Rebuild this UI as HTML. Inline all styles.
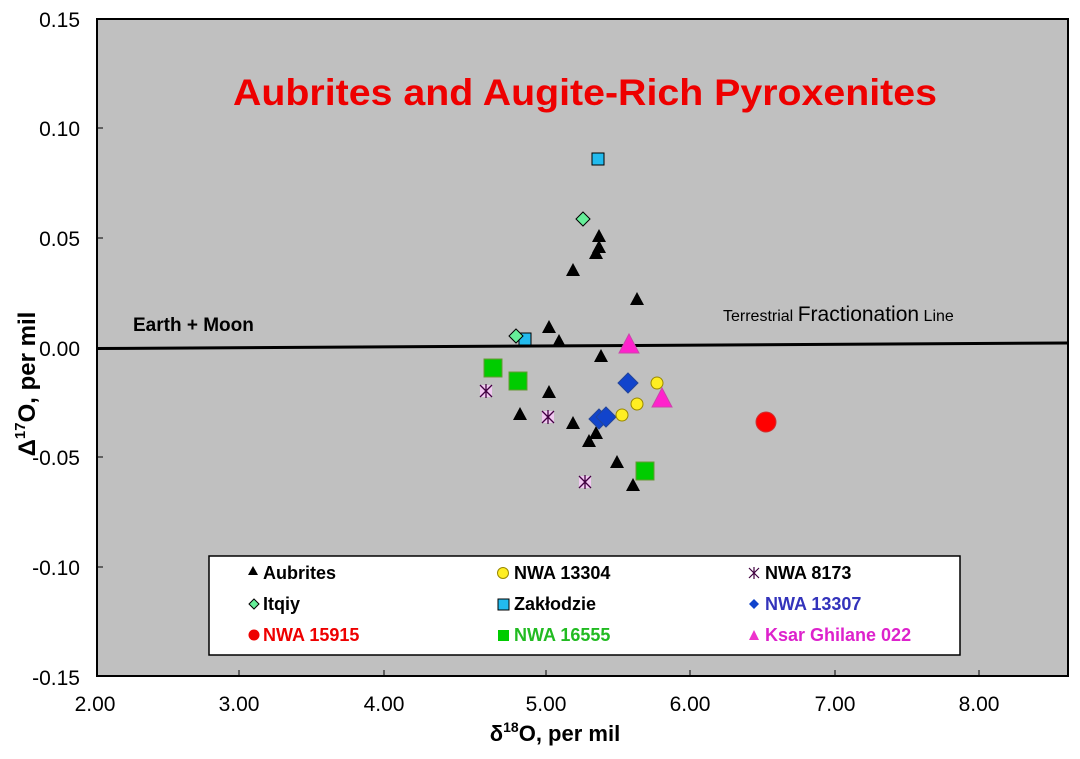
<!DOCTYPE html>
<html><head><meta charset="utf-8"><style>
html,body{margin:0;padding:0;background:#fff;}
svg{display:block;font-family:"Liberation Sans",Arial,sans-serif;}
</style></head><body>
<svg width="1080" height="759" viewBox="0 0 1080 759" xmlns="http://www.w3.org/2000/svg">
<defs>
<g id="tri"><polygon points="0,-8 7,5 -7,5" fill="#000"/></g>
</defs>
<rect x="97" y="19" width="971" height="657" fill="#c0c0c0" stroke="#000" stroke-width="2"/>
<g stroke="#000" stroke-width="1">
<line x1="97" y1="128" x2="103" y2="128"/><line x1="97" y1="238" x2="103" y2="238"/>
<line x1="97" y1="457" x2="103" y2="457"/><line x1="97" y1="567" x2="103" y2="567"/>
<line x1="239" y1="676" x2="239" y2="670"/><line x1="384" y1="676" x2="384" y2="670"/>
<line x1="546" y1="676" x2="546" y2="670"/><line x1="690" y1="676" x2="690" y2="670"/>
<line x1="835" y1="676" x2="835" y2="670"/><line x1="979" y1="676" x2="979" y2="670"/>
</g>
<g font-size="21" text-anchor="end" fill="#000">
<text x="80" y="27">0.15</text><text x="80" y="136">0.10</text><text x="80" y="246">0.05</text>
<text x="80" y="356">0.00</text><text x="80" y="465">-0.05</text><text x="80" y="575">-0.10</text>
<text x="80" y="685">-0.15</text>
</g>
<g font-size="21" text-anchor="middle" fill="#000">
<text x="95" y="711">2.00</text><text x="239" y="711">3.00</text><text x="384" y="711">4.00</text>
<text x="546" y="711">5.00</text><text x="690" y="711">6.00</text><text x="835" y="711">7.00</text>
<text x="979" y="711">8.00</text>
</g>
<text x="555" y="741" font-size="22" font-weight="bold" text-anchor="middle">δ<tspan font-size="14" dy="-9">18</tspan><tspan dy="9">O, per mil</tspan></text>
<text transform="translate(35,384) rotate(-90)" font-size="24" font-weight="bold" text-anchor="middle">Δ<tspan font-size="15" dy="-10">17</tspan><tspan dy="10">O, per mil</tspan></text>
<text x="233" y="105" font-size="37" font-weight="bold" fill="#ee0000" textLength="704" lengthAdjust="spacingAndGlyphs">Aubrites and Augite-Rich Pyroxenites</text>
<text x="133" y="331" font-size="19" font-weight="bold">Earth + Moon</text>
<text x="723" y="321" font-size="16">Terrestrial <tspan font-size="21">Fractionation</tspan> Line</text>
<line x1="97" y1="348.5" x2="1068" y2="343" stroke="#000" stroke-width="3"/>
<g>
<use href="#tri" x="599" y="237"/><use href="#tri" x="599" y="248"/><use href="#tri" x="596" y="254"/>
<use href="#tri" x="573" y="271"/><use href="#tri" x="637" y="300"/><use href="#tri" x="549" y="328"/>
<use href="#tri" x="559" y="342"/><use href="#tri" x="601" y="357"/><use href="#tri" x="549" y="393"/>
<use href="#tri" x="520" y="415"/><use href="#tri" x="573" y="424"/><use href="#tri" x="596" y="434"/>
<use href="#tri" x="589" y="442"/><use href="#tri" x="617" y="463"/><use href="#tri" x="633" y="486"/>
</g>
<rect x="592" y="153" width="12" height="12" fill="#22bbee" stroke="#000" stroke-width="1"/>
<rect x="519" y="333" width="12" height="12" fill="#22bbee" stroke="#000" stroke-width="1"/>
<polygon points="583,212 590,219 583,226 576,219" fill="#66ee99" stroke="#000"/>
<polygon points="516,329 523,336 516,343 509,336" fill="#66ee99" stroke="#000"/>
<g fill="#00cc00" stroke="#669933">
<rect x="484" y="359" width="18" height="18"/><rect x="509" y="372" width="18" height="18"/>
<rect x="636" y="462" width="18" height="18"/>
</g>
<g>
<rect x="480" y="385" width="12" height="12" fill="#f0c8f0"/>
<rect x="542" y="411" width="12" height="12" fill="#f0c8f0"/>
<rect x="579" y="476" width="12" height="12" fill="#f0c8f0"/>
<g stroke="#400040" stroke-width="1.3">
<path d="M480,385l12,12M492,385l-12,12M486,384v14"/>
<path d="M542,411l12,12M554,411l-12,12M548,410v14"/>
<path d="M579,476l12,12M591,476l-12,12M585,475v14"/>
</g></g>
<g fill="#1144cc" stroke="#224499">
<polygon points="628,373 638,383 628,393 618,383"/>
<polygon points="599,409 609,419 599,429 589,419"/>
<polygon points="606,407 616,417 606,427 596,417"/>
</g>
<g fill="#ffee22" stroke="#998800">
<circle cx="657" cy="383" r="6"/><circle cx="637" cy="404" r="6"/><circle cx="622" cy="415" r="6"/>
</g>
<polygon points="629,334 639,353 619,353" fill="#ff22cc" stroke="#cc44aa"/>
<polygon points="662,388 672,407 652,407" fill="#ff22cc" stroke="#cc44aa"/>
<circle cx="766" cy="422" r="10" fill="#ff0000" stroke="#cc3333"/>
<rect x="209" y="556" width="751" height="99" fill="#fff" stroke="#000" stroke-width="1.5"/>
<g font-size="18" font-weight="bold">
<polygon points="253,566 258,575 248,575" fill="#000"/><text x="263" y="579">Aubrites</text>
<circle cx="503" cy="573" r="5.5" fill="#ffee22" stroke="#998800"/><text x="514" y="579">NWA 13304</text>
<path d="M749,568l10,10M759,568l-10,10M754,567v12" stroke="#400040" stroke-width="1.2"/><text x="765" y="579">NWA 8173</text>
<polygon points="254,599 259,604 254,609 249,604" fill="#66ee99" stroke="#000"/><text x="263" y="610">Itqiy</text>
<rect x="498" y="599" width="11" height="11" fill="#22bbee" stroke="#000"/><text x="514" y="610">Zakłodzie</text>
<polygon points="754,599 759,604 754,609 749,604" fill="#1144cc"/><text x="765" y="610" fill="#3333bb">NWA 13307</text>
<circle cx="254" cy="635" r="5.5" fill="#ee0000"/><text x="263" y="641" fill="#ee0000">NWA 15915</text>
<rect x="498" y="630" width="11" height="11" fill="#00cc00"/><text x="514" y="641" fill="#22bb22">NWA 16555</text>
<polygon points="754,630 759,640 749,640" fill="#ee33cc"/><text x="765" y="641" fill="#dd22cc">Ksar Ghilane 022</text>
</g>
</svg>
</body></html>
